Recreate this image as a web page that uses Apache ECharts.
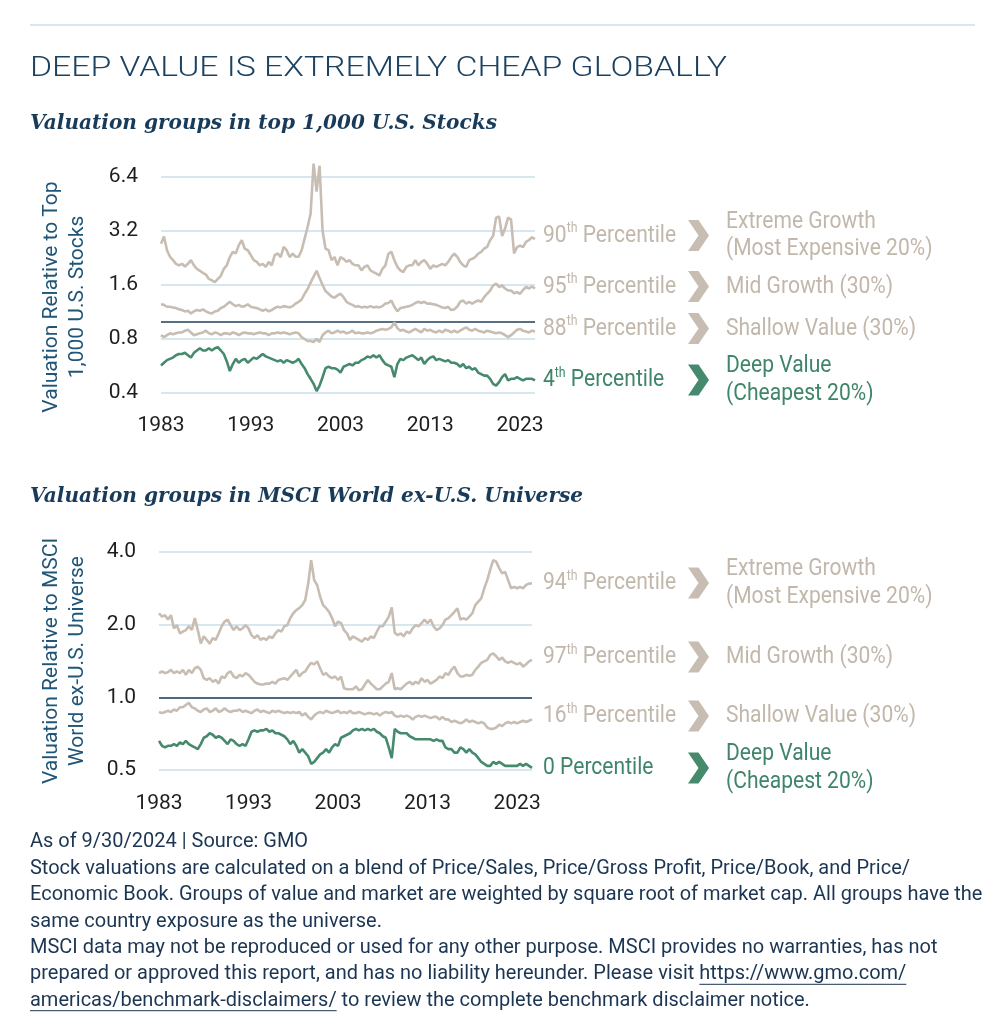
<!DOCTYPE html>
<html>
<head>
<meta charset="utf-8">
<script src="https://cdn.jsdelivr.net/npm/echarts@6/dist/echarts.min.js"></script>
<style>
html,body{margin:0;padding:0;background:#ffffff;}
#c{width:1007px;height:1024px;}
</style>
</head>
<body>
<div id="c"></div>
<script>
// ---------------- DATA ----------------
const START_YEAR = 1983;
const STEP = 1 / 3; // one reading every four months, 1983 -> Sep 2024

// Top panel: valuation relative to top 1,000 U.S. stocks
const usExtreme = [2.72,2.98,2.5,2.3,2.2,2.1,2.06,2.1,2.03,2.1,
 2.2,2.06,1.97,1.92,1.87,1.83,1.73,1.7,1.66,1.73,
 1.8,1.97,2.06,2.29,2.45,2.4,2.67,2.84,2.55,2.5,
 2.35,2.2,2.15,2.06,2.1,2.02,2.15,2.06,2.35,2.4,
 2.29,2.61,2.5,2.29,2.39,2.3,2.3,2.5,2.9,3.37,
 4.0,7.6,5.3,7.4,3.2,2.55,2.5,2.2,2.29,2.06,
 2.29,2.24,2.15,2.2,2.1,2.06,2.06,1.93,2.02,2.06,
 1.93,1.89,1.85,1.81,1.97,2.06,2.39,2.45,2.2,2.02,
 1.93,1.89,2.02,2.06,2.06,2.2,2.06,2.15,2.2,2.1,
 1.97,2.06,2.02,2.06,2.1,2.06,2.15,2.29,2.39,2.3,
 2.15,2.06,2.02,2.2,2.24,2.29,2.39,2.45,2.55,2.61,
 2.84,3.0,3.8,3.85,3.0,3.3,3.8,3.7,2.4,2.6,
 2.65,2.6,2.78,2.85,2.95,2.88];
const usMid = [1.25,1.24,1.21,1.21,1.2,1.19,1.17,1.16,1.14,1.15,
 1.11,1.14,1.16,1.15,1.17,1.14,1.12,1.11,1.14,1.15,
 1.19,1.21,1.25,1.29,1.25,1.22,1.24,1.21,1.22,1.25,
 1.21,1.2,1.19,1.17,1.15,1.17,1.14,1.16,1.19,1.21,
 1.2,1.22,1.21,1.2,1.22,1.26,1.29,1.33,1.43,1.52,
 1.65,1.78,1.92,1.75,1.6,1.48,1.43,1.38,1.36,1.4,
 1.43,1.37,1.29,1.26,1.24,1.21,1.22,1.2,1.21,1.2,
 1.22,1.2,1.21,1.2,1.22,1.26,1.27,1.31,1.21,1.14,
 1.19,1.2,1.21,1.22,1.24,1.27,1.29,1.27,1.29,1.26,
 1.26,1.25,1.24,1.22,1.2,1.19,1.21,1.16,1.17,1.21,
 1.29,1.31,1.26,1.29,1.26,1.29,1.31,1.29,1.37,1.43,
 1.49,1.59,1.63,1.56,1.59,1.53,1.49,1.49,1.44,1.46,
 1.43,1.5,1.56,1.53,1.57,1.53];
const usShallow = [0.84,0.82,0.84,0.86,0.85,0.86,0.87,0.87,0.89,0.9,
 0.87,0.84,0.85,0.86,0.87,0.89,0.86,0.85,0.87,0.86,
 0.84,0.86,0.86,0.85,0.87,0.86,0.84,0.86,0.87,0.86,
 0.86,0.85,0.86,0.87,0.86,0.86,0.84,0.86,0.86,0.87,
 0.86,0.87,0.86,0.85,0.86,0.87,0.86,0.82,0.8,0.78,
 0.78,0.77,0.8,0.77,0.84,0.87,0.89,0.86,0.87,0.89,
 0.87,0.88,0.86,0.87,0.89,0.86,0.87,0.86,0.86,0.87,
 0.86,0.87,0.89,0.9,0.91,0.9,0.91,0.93,0.99,0.92,
 0.89,0.9,0.88,0.87,0.89,0.91,0.89,0.87,0.91,0.89,
 0.9,0.88,0.87,0.89,0.87,0.9,0.89,0.87,0.89,0.87,
 0.89,0.91,0.93,0.9,0.89,0.91,0.89,0.88,0.87,0.89,
 0.88,0.87,0.86,0.87,0.86,0.84,0.82,0.84,0.87,0.9,
 0.91,0.89,0.88,0.87,0.89,0.88];
const usDeep = [0.57,0.59,0.61,0.62,0.63,0.65,0.66,0.66,0.67,0.65,
 0.63,0.67,0.69,0.71,0.69,0.69,0.71,0.69,0.71,0.72,
 0.69,0.66,0.6,0.53,0.58,0.62,0.59,0.61,0.62,0.59,
 0.61,0.63,0.62,0.64,0.66,0.64,0.63,0.62,0.61,0.6,
 0.61,0.59,0.61,0.6,0.59,0.6,0.62,0.58,0.55,0.51,
 0.48,0.45,0.41,0.44,0.49,0.55,0.56,0.55,0.55,0.54,
 0.52,0.56,0.57,0.58,0.57,0.59,0.59,0.61,0.62,0.64,
 0.63,0.65,0.63,0.65,0.61,0.58,0.57,0.56,0.49,0.58,
 0.62,0.61,0.63,0.64,0.65,0.63,0.61,0.63,0.58,0.61,
 0.63,0.64,0.61,0.62,0.61,0.6,0.61,0.59,0.59,0.58,
 0.56,0.58,0.55,0.56,0.54,0.55,0.52,0.51,0.5,0.5,
 0.48,0.45,0.44,0.46,0.49,0.51,0.47,0.48,0.48,0.49,
 0.48,0.47,0.48,0.48,0.48,0.47];

// Bottom panel: valuation relative to MSCI World ex-U.S. universe
const exExtreme = [2.23,2.16,2.19,2.1,2.19,1.93,1.99,1.84,1.87,1.9,
 1.97,1.9,2.13,1.9,1.67,1.79,1.73,1.67,1.76,1.73,
 1.84,1.97,2.06,2.1,1.99,1.9,1.97,1.9,1.93,1.99,
 1.93,1.81,1.76,1.81,1.73,1.76,1.73,1.79,1.76,1.84,
 1.9,1.87,1.97,1.99,2.13,2.23,2.3,2.34,2.41,2.53,
 2.96,3.7,3.06,2.92,2.61,2.41,2.34,2.26,2.13,1.97,
 2.06,2.03,1.9,1.84,1.73,1.79,1.76,1.73,1.7,1.76,
 1.73,1.79,1.76,1.87,1.97,1.97,2.06,2.16,2.36,1.85,
 1.81,1.84,1.79,1.87,1.84,1.93,1.99,1.97,2.03,2.1,
 2.03,2.1,1.97,1.9,1.93,1.99,2.1,2.13,2.19,2.26,
 2.34,2.1,2.13,2.1,2.16,2.23,2.41,2.49,2.57,2.83,
 3.06,3.38,3.7,3.65,3.43,3.26,3.31,3.06,2.83,2.87,
 2.83,2.87,2.83,2.92,2.96,2.96];
const exMid = [1.26,1.28,1.26,1.27,1.3,1.26,1.28,1.26,1.3,1.24,
 1.3,1.26,1.32,1.34,1.3,1.2,1.18,1.2,1.16,1.18,
 1.14,1.22,1.2,1.26,1.28,1.22,1.2,1.24,1.22,1.26,
 1.24,1.2,1.16,1.14,1.13,1.13,1.14,1.14,1.16,1.14,
 1.18,1.19,1.2,1.18,1.22,1.26,1.3,1.22,1.26,1.28,
 1.34,1.39,1.37,1.41,1.32,1.24,1.26,1.22,1.2,1.22,
 1.18,1.22,1.09,1.08,1.08,1.08,1.11,1.07,1.08,1.13,
 1.18,1.14,1.11,1.08,1.08,1.11,1.14,1.16,1.26,1.08,
 1.09,1.08,1.11,1.14,1.16,1.13,1.16,1.14,1.2,1.16,
 1.18,1.14,1.16,1.18,1.22,1.2,1.26,1.24,1.3,1.34,
 1.26,1.22,1.22,1.24,1.23,1.24,1.3,1.34,1.39,1.41,
 1.43,1.5,1.52,1.48,1.43,1.46,1.41,1.39,1.41,1.39,
 1.37,1.39,1.34,1.37,1.41,1.43];
const exShallow = [0.87,0.86,0.87,0.88,0.87,0.89,0.88,0.91,0.91,0.93,
 0.95,0.91,0.9,0.88,0.87,0.89,0.9,0.87,0.88,0.9,
 0.87,0.88,0.9,0.88,0.87,0.88,0.88,0.89,0.87,0.88,
 0.87,0.86,0.88,0.89,0.87,0.88,0.87,0.86,0.88,0.87,
 0.88,0.87,0.86,0.87,0.86,0.87,0.86,0.87,0.84,0.86,
 0.83,0.81,0.84,0.86,0.87,0.86,0.88,0.87,0.86,0.87,
 0.88,0.86,0.87,0.86,0.88,0.86,0.86,0.87,0.86,0.85,
 0.86,0.86,0.85,0.86,0.84,0.86,0.87,0.86,0.87,0.84,
 0.83,0.84,0.83,0.84,0.83,0.81,0.83,0.84,0.83,0.84,
 0.83,0.82,0.83,0.83,0.81,0.83,0.81,0.81,0.79,0.8,
 0.79,0.78,0.79,0.81,0.79,0.8,0.79,0.78,0.79,0.78,
 0.75,0.74,0.74,0.75,0.77,0.76,0.78,0.79,0.78,0.79,
 0.78,0.79,0.8,0.79,0.8,0.81];
const exDeep = [0.66,0.63,0.62,0.63,0.63,0.64,0.63,0.65,0.64,0.66,
 0.64,0.63,0.62,0.61,0.64,0.68,0.69,0.71,0.7,0.68,
 0.69,0.68,0.66,0.64,0.67,0.66,0.64,0.63,0.64,0.63,
 0.67,0.72,0.73,0.72,0.73,0.73,0.74,0.72,0.73,0.71,
 0.71,0.7,0.69,0.67,0.64,0.66,0.63,0.59,0.61,0.59,
 0.57,0.53,0.54,0.56,0.58,0.59,0.61,0.59,0.62,0.64,
 0.63,0.68,0.69,0.7,0.71,0.73,0.74,0.73,0.74,0.73,
 0.74,0.73,0.74,0.72,0.71,0.69,0.68,0.62,0.56,0.74,
 0.72,0.71,0.71,0.71,0.69,0.68,0.67,0.67,0.67,0.67,
 0.67,0.67,0.66,0.67,0.66,0.66,0.62,0.61,0.61,0.59,
 0.59,0.62,0.61,0.59,0.61,0.59,0.58,0.56,0.54,0.53,
 0.52,0.52,0.54,0.53,0.54,0.53,0.52,0.52,0.52,0.52,
 0.52,0.53,0.52,0.53,0.52,0.51];

const groupNames = ['Extreme Growth\n(Most Expensive 20%)', 'Mid Growth (30%)', 'Shallow Value (30%)', 'Deep Value\n(Cheapest 20%)'];
const usPercentiles = ['90th', '95th', '88th', '4th'];
const exPercentiles = ['94th', '97th', '16th', '0'];
const usTicks = [0.4, 0.8, 1.6, 3.2, 6.4];
const exTicks = [0.5, 1.0, 2.0, 4.0];
const xTickYears = [1983, 1993, 2003, 2013, 2023];

const titleText = 'DEEP VALUE IS EXTREMELY CHEAP GLOBALLY';
const subtitleUS = 'Valuation groups in top 1,000 U.S. Stocks';
const subtitleEx = 'Valuation groups in MSCI World ex-U.S. Universe';
const yNameUS = 'Valuation Relative to Top\n1,000 U.S. Stocks';
const yNameEx = 'Valuation Relative to MSCI\nWorld ex-U.S. Universe';
const footnoteLines = [
 'As of 9/30/2024 | Source: GMO',
 'Stock valuations are calculated on a blend of Price/Sales, Price/Gross Profit, Price/Book, and Price/',
 'Economic Book. Groups of value and market are weighted by square root of market cap. All groups have the',
 'same country exposure as the universe.',
 'MSCI data may not be reproduced or used for any other purpose. MSCI provides no warranties, has not',
 'prepared or approved this report, and has no liability hereunder. Please visit https://www.gmo.com/',
 'americas/benchmark-disclaimers/ to review the complete benchmark disclaimer notice.'
];
const linkPart1 = 'https://www.gmo.com/';
const linkPart2 = 'americas/benchmark-disclaimers/';

// ---------------- BUILD ----------------
const times = usExtreme.map((_, i) => START_YEAR + i * STEP);
const pairs = arr => arr.map((v, i) => [times[i], v]);

const GREY = '#c8bdb2';
const GREY_TEXT = '#c2b7ab';
const GREEN = '#468a6e';
const GREEN_TEXT = '#3e8569';
const NAVY = '#1c4262';
const GRIDLINE = '#d6e7f0';
const BASE = '#1f3f5b';

const mctx = document.createElement('canvas').getContext('2d');
function tw(str, font) { mctx.font = font; return mctx.measureText(str).width; }

const TITLE_SIZE = 27, SUB_SIZE = 20, LAB_SIZE = 24, FOOT_SIZE = 20.5;
const titleSX = 697 / tw(titleText, '300 ' + TITLE_SIZE + 'px Roboto');
const subSX = 467 / tw(subtitleUS, 'italic bold ' + SUB_SIZE + 'px "DejaVu Serif"');
const labSX = 190 / tw('Shallow Value (30%)', 'normal ' + LAB_SIZE + 'px Roboto');
const footSX = 880 / tw(footnoteLines[1], 'normal ' + FOOT_SIZE + 'px Roboto');

function gText(x, y, text, o) {
  const st = {
    text: text, fill: o.color, fontSize: o.size, fontFamily: o.family || 'Roboto',
    fontWeight: o.weight || 'normal', fontStyle: o.fstyle || 'normal',
    textAlign: 'left', textVerticalAlign: 'middle'
  };
  if (o.lh) st.lineHeight = o.lh;
  if (o.rich) st.rich = o.rich;
  return { type: 'text', x: x, y: y, scaleX: o.sx || 1, silent: true, z: 100, style: st };
}
function chevron(x, y, color) {
  const w = 21, h = 31;
  return { type: 'polygon', silent: true, z: 100,
    shape: { points: [[x, y - h / 2], [x + w * 0.5, y - h / 2], [x + w, y], [x + w * 0.5, y + h / 2], [x, y + h / 2], [x + w * 0.5, y]] },
    style: { fill: color } };
}
function pctText(x, y, p, color) {
  const m = p.match(/^(\d+)(\D*)$/);
  const txt = m[2] ? m[1] + '{s|' + m[2] + '}' + ' Percentile' : m[1] + ' Percentile';
  return gText(x, y, txt, { color: color, size: LAB_SIZE, sx: labSX, lh: 28,
    rich: { s: { fontSize: 14, fontFamily: 'Roboto', fill: color, verticalAlign: 'top', lineHeight: 16 } } });
}

const graphics = [];
graphics.push({ type: 'line', silent: true, shape: { x1: 30, y1: 25, x2: 975, y2: 25 }, style: { stroke: '#d9e8f0', lineWidth: 2 } });
graphics.push(gText(30, 69, titleText, { color: NAVY, size: TITLE_SIZE, weight: 300, sx: titleSX }));
graphics.push(gText(30, 123.5, subtitleUS, { color: '#183b5a', size: SUB_SIZE, family: '"DejaVu Serif"', weight: 'bold', fstyle: 'italic', sx: subSX }));
graphics.push(gText(30, 497, subtitleEx, { color: '#183b5a', size: SUB_SIZE, family: '"DejaVu Serif"', weight: 'bold', fstyle: 'italic', sx: subSX }));

const usRowY = [235.5, 286.5, 328.5, 380];
const exRowY = [583, 657, 716, 768];
function addLabels(rowY, pcts) {
  rowY.forEach((y, k) => {
    const deep = k === 3;
    const tc = deep ? GREEN_TEXT : GREY_TEXT;
    graphics.push(pctText(543, y, pcts[k], tc));
    graphics.push(chevron(688, y, deep ? GREEN : GREY));
    graphics.push(gText(726, y, groupNames[k], { color: tc, size: LAB_SIZE, sx: labSX, lh: 27.5 }));
  });
}
addLabels(usRowY, usPercentiles);
addLabels(exRowY, exPercentiles);

const FOOT_Y0 = 842.3, FOOT_DY = 26.4;
const footFont = 'normal ' + FOOT_SIZE + 'px Roboto';
footnoteLines.forEach((line, k) => {
  graphics.push(gText(30, FOOT_Y0 + k * FOOT_DY, line, { color: '#1b3552', size: FOOT_SIZE, sx: footSX }));
});
// underline the link
(function () {
  const l6 = footnoteLines[5];
  const pre = l6.slice(0, l6.indexOf(linkPart1));
  const x6 = 30 + footSX * tw(pre, footFont);
  const w6 = footSX * tw(linkPart1, footFont);
  const y6 = FOOT_Y0 + 5 * FOOT_DY + 10;
  graphics.push({ type: 'line', silent: true, z: 100, shape: { x1: x6, y1: y6, x2: x6 + w6, y2: y6 }, style: { stroke: '#1b3552', lineWidth: 1 } });
  const w7 = footSX * tw(linkPart2, footFont);
  const y7 = FOOT_Y0 + 6 * FOOT_DY + 10;
  graphics.push({ type: 'line', silent: true, z: 100, shape: { x1: 30, y1: y7, x2: 30 + w7, y2: y7 }, style: { stroke: '#1b3552', lineWidth: 1 } });
})();

const tickLabel = { color: '#1e1e1e', fontSize: 21, fontFamily: 'Roboto' };
function xAxisFor(gi, margin) {
  return { type: 'value', gridIndex: gi, min: xTickYears[0], max: times[times.length - 1], interval: 10,
    axisLine: { show: false }, axisTick: { show: false }, splitLine: { show: false },
    axisLabel: Object.assign({ margin: margin, formatter: v => (xTickYears.indexOf(v) >= 0 ? String(v) : '') }, tickLabel) };
}
function yAxisFor(gi, ticks, name, gap, pad) {
  return { type: 'log', logBase: 2, gridIndex: gi, min: ticks[0], max: ticks[ticks.length - 1], interval: 1,
    axisLine: { show: false }, axisTick: { show: false },
    splitLine: { show: true, lineStyle: { color: GRIDLINE, width: 2 } },
    axisLabel: Object.assign({ margin: 23, formatter: v => v.toFixed(1) }, tickLabel),
    name: name, nameLocation: 'middle', nameRotate: 90, nameGap: gap,
    nameTextStyle: { color: '#1f5577', fontSize: 21, fontFamily: 'Roboto', lineHeight: 26, padding: pad } };
}
function lineS(name, data, color, gi, z, withBase) {
  const s = { name: name, type: 'line', xAxisIndex: gi, yAxisIndex: gi, data: pairs(data), showSymbol: false,
    symbol: 'none', clip: false, lineStyle: { color: color, width: 2.6 }, itemStyle: { color: color }, z: z, silent: true };
  if (withBase) {
    s.markLine = { silent: true, symbol: 'none', label: { show: false }, z: 1,
      lineStyle: { color: BASE, width: 1.6, type: 'solid' }, data: [{ yAxis: 1 }] };
  }
  return s;
}

const option = {
  animation: false,
  backgroundColor: '#ffffff',
  grid: [
    { left: 161, top: 177, width: 374, height: 216 },
    { left: 159, top: 552, width: 373, height: 218 }
  ],
  xAxis: [xAxisFor(0, 22), xAxisFor(1, 23)],
  yAxis: [yAxisFor(0, usTicks, yNameUS, 70, [0, 24, 0, 0]), yAxisFor(1, exTicks, yNameEx, 68, [0, 0, 0, 0])],
  series: [
    lineS('Extreme Growth', usExtreme, GREY, 0, 3, true),
    lineS('Mid Growth', usMid, GREY, 0, 3),
    lineS('Shallow Value', usShallow, GREY, 0, 3),
    lineS('Deep Value', usDeep, GREEN, 0, 4),
    lineS('Extreme Growth', exExtreme, GREY, 1, 3, true),
    lineS('Mid Growth', exMid, GREY, 1, 3),
    lineS('Shallow Value', exShallow, GREY, 1, 3),
    lineS('Deep Value', exDeep, GREEN, 1, 4)
  ],
  graphic: { elements: graphics }
};

const chart = echarts.init(document.getElementById('c'), null, { renderer: 'canvas', width: 1007, height: 1024 });
chart.setOption(option);
</script>
</body>
</html>
